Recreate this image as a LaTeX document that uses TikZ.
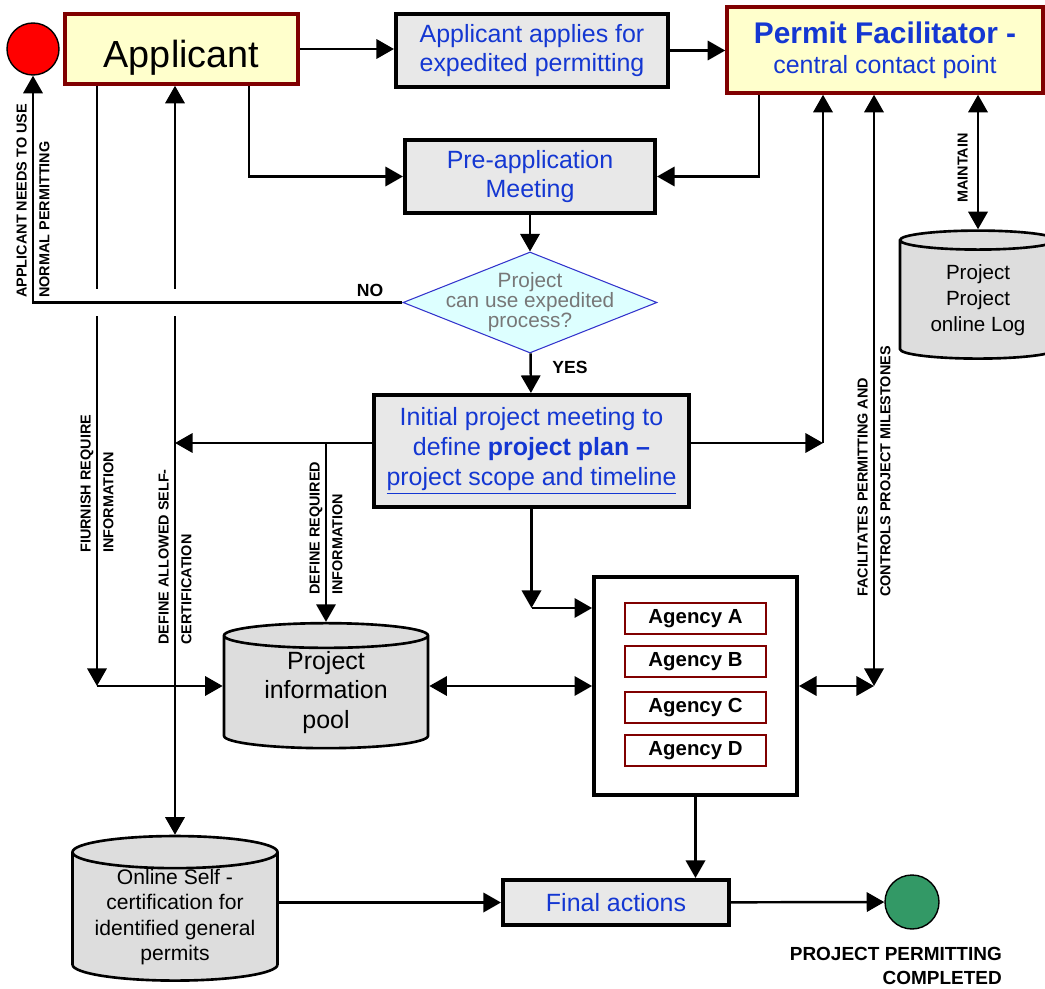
\documentclass[tikz,border=0pt]{standalone}
\usepackage{fontspec}
\setmainfont{Liberation Sans}
\usetikzlibrary{arrows.meta,shapes.geometric}
\definecolor{appyellow}{HTML}{FFFFCC}
\definecolor{appred}{HTML}{800000}
\definecolor{stepgray}{HTML}{E8E8E8}
\definecolor{dbgray}{HTML}{DDDDDD}
\definecolor{stepblue}{RGB}{20,55,210}
\definecolor{askcyan}{HTML}{DDFFFF}
\definecolor{askblue}{HTML}{3333CC}
\definecolor{asktext}{HTML}{777777}
\definecolor{donegreen}{HTML}{339966}

\begin{document}
\begin{tikzpicture}[
  every node/.style={font=\fontsize{14.2}{17}\selectfont, align=center},
  actor/.style={draw=appred, line width=2pt, fill=appyellow, inner sep=0pt},
  stepbox/.style={draw, line width=2.3pt, fill=stepgray, text=stepblue, inner sep=0pt},
  database/.style={cylinder, shape border rotate=90, aspect=0.2, draw, line width=1.5pt, fill=dbgray, inner sep=0pt},
  agency/.style={draw=appred, line width=1pt, fill=white, minimum width=2.82cm, minimum height=0.62cm, inner sep=0pt, font=\fontsize{11.6}{13}\selectfont\bfseries},
  flowlabel/.style={font=\fontsize{8.2}{13}\selectfont\bfseries, rotate=90, align=left, anchor=west, inner sep=0pt},
  line/.style={line width=1.4pt},
  arr/.style={line, -{Triangle[length=10pt,width=11pt]}},
  arr2/.style={line, {Triangle[length=10pt,width=11pt]}-{Triangle[length=10pt,width=11pt]}},
]
\useasboundingbox (0,0) rectangle (20.9,-19.78);

\node[circle, draw, line width=0.8pt, fill=red, minimum size=1.04cm, inner sep=0pt] (stop) at (0.66,-0.98) {};
\node[actor, minimum width=4.66cm, minimum height=1.4cm, font=\fontsize{21.5}{25}\selectfont] (app) at (3.63,-0.98) {\raisebox{-3pt}[\height][0pt]{Applicant}};
\node[stepbox, minimum width=5.44cm, minimum height=1.46cm] (apply) at (10.64,-1.01) {Applicant applies for\\expedited permitting};
\node[actor, minimum width=6.32cm, minimum height=1.72cm, text=stepblue, font=\fontsize{14.2}{17.2}\selectfont] (fac) at (17.7,-1.0) {{\fontsize{17}{20}\selectfont\bfseries Permit Facilitator -}\\central contact point};
\node[stepbox, minimum width=5cm, minimum height=1.46cm] (pre) at (10.6,-3.53) {Pre-application\\Meeting};
\node[diamond, draw=askblue, line width=0.6pt, fill=askcyan, minimum width=5.08cm, minimum height=2.02cm, inner sep=0pt] (ask) at (10.6,-6.05) {};
\node[font=\fontsize{11.8}{11.4}\selectfont, text=asktext] (askt) at (ask) {Project\\can use expedited\\process?};
\node[font=\fontsize{10}{12}\selectfont\bfseries] (no) at (7.4,-5.8) {NO};
\node[font=\fontsize{10}{12}\selectfont\bfseries] (yes) at (11.4,-7.34) {YES};
\node[stepbox, minimum width=6.3cm, minimum height=2.24cm] (init) at (10.63,-9.02) {Initial project meeting to\\define \textbf{project plan –}\\\underline{project scope and timeline}};

\node[database, minimum width=4.08cm, minimum height=2.5cm] (pool) at (6.52,-13.85) {Project\\information\\pool};
\node[draw, line width=2.2pt, fill=white, minimum width=4.06cm, minimum height=4.36cm] (agbox) at (13.91,-13.72) {};
\foreach \y/\n in {-12.37/A, -13.23/B, -14.15/C, -15.01/D}
  \node[agency] (ag\n) at (13.91,\y) {Agency \n};
\node[database, minimum width=3.12cm, minimum height=2.56cm, font=\fontsize{11.7}{14.7}\selectfont] (log) at (19.56,-6.0) {Project\\Project\\online Log};
\node[database, minimum width=4.1cm, minimum height=2.76cm, font=\fontsize{12}{14.3}\selectfont] (self) at (3.5,-18.34) {Online Self -\\certification for\\identified general\\permits};
\node[stepbox, minimum width=4.52cm, minimum height=0.9cm] (final) at (12.32,-18.05) {Final actions};
\node[circle, draw, line width=0.8pt, fill=donegreen, minimum size=1.08cm, inner sep=0pt] (done) at (18.24,-18.04) {};
\node[anchor=north east, align=right, font=\fontsize{10.8}{13.4}\selectfont\bfseries] (donet) at (20.16,-18.82) {PROJECT PERMITTING\\COMPLETED};

\coordinate (furntop) at ([xshift=-1.69cm]app.south);
\coordinate (furn) at (furntop |- agbox.west);
\coordinate (initl) at ([yshift=.16cm]init.west);
\coordinate (initr) at ([yshift=.16cm]init.east);
\coordinate (agin) at ([yshift=1.56cm]agbox.west);
\coordinate (facl) at ([xshift=-1.24cm]fac.south);
\coordinate (facm) at ([xshift=-.22cm]fac.south);

\draw[arr] (app.east) -- (app.east -| apply.west);
\draw[arr] (apply.east) -- (apply.east -| fac.west);
\draw[arr] ([xshift=1.35cm]app.south) |- (pre.west);
\draw[arr] ([xshift=-2.52cm]fac.south) |- (pre.east);
\draw[arr] (pre) -- (ask);
\draw[arr] (ask) -- (init);
\draw[arr] (furntop) -- (furn);
\draw[arr] (furn) -- (furn -| pool.west);
\draw[arr2] (self.north |- app.south) -- (self.north);
\draw[arr] (ask.west) -| (stop.south);
\draw[line, white, line width=15pt] (ask.west -| furn) ++(-0.3,0) -- ++(1.9,0);
\draw[line] (ask.west) -- (ask.west -| stop.south);
\draw[arr] (initl) -- (initl -| self.north);
\draw[arr] (initl -| pool.north) -- (pool.north);
\draw[arr] (init.south) -- (init.south |- agin);
\draw[arr] (init.south |- agin) -- (agin);
\draw[arr2] (agbox.west -| pool.east) -- (agbox.west);
\draw[arr] (initr) -- (initr -| facl);
\draw[arr] (initr -| facl) -- (facl);
\draw[arr2] (facm) -- (facm |- agbox.east);
\draw[arr2] (agbox.east) -- (facm |- agbox.east);
\draw[arr2] (log.north |- fac.south) -- (log.north);
\draw[arr] (agbox.south) -- (agbox.south |- final.north);
\draw[arr] (self.east |- final.west) -- (final.west);
\draw[arr] (final) -- (done);

\node[flowlabel] (normal) at (0.66,-5.96) {APPLICANT NEEDS TO USE\\NORMAL PERMITTING};
\node[flowlabel] (furnl) at (1.94,-11.06) {FIURNISH REQUIRE\\INFORMATION};
\node[flowlabel] (selfl) at (3.5,-12.9) {DEFINE ALLOWED SELF-\\CERTIFICATION};
\node[flowlabel] (reql) at (6.52,-11.9) {DEFINE REQUIRED\\INFORMATION};
\node[flowlabel] (facil) at (17.48,-11.94) {FACILITATES PERMITTING AND\\CONTROLS PROJECT MILESTONES};
\node[flowlabel, anchor=south west] (maint) at (19.36,-4.06) {MAINTAIN};
\end{tikzpicture}
\end{document}
